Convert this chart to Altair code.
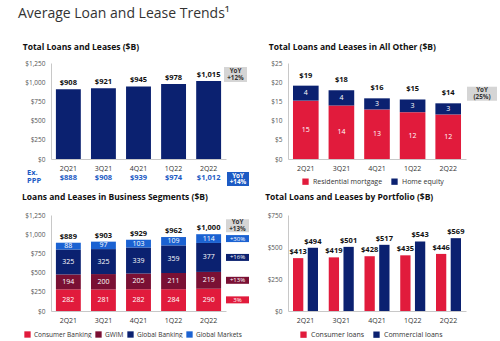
import altair as alt
import pandas as pd

quarters = ["2Q21", "3Q21", "4Q21", "1Q22", "2Q22"]
total_loans = [908, 921, 945, 978, 1015]
ex_ppp = [888, 908, 939, 974, 1012]

resid_mortgage = [15.2, 13.9, 12.9, 12.2, 11.6]
home_equity = [3.9, 4.0, 2.9, 3.3, 2.9]
all_other_totals = [19, 18, 16, 15, 14]

consumer_banking = [282, 281, 282, 284, 290]
gwim = [194, 200, 205, 211, 219]
global_banking = [325, 325, 339, 359, 377]
global_markets = [88, 97, 103, 109, 114]
segment_totals = [889, 903, 929, 962, 1000]
segment_yoy = ["3%", "+13%", "+16%", "+30%"]

consumer_loans = [413, 419, 428, 435, 446]
commercial_loans = [494, 501, 517, 543, 569]

NAVY = "#0B2170"
RED = "#E11B3C"
DARK_RED = "#7A1034"
BLUE = "#1B62D2"
PPP_BLUE = "#1D5BC4"
GRAY_BOX = "#D5D5D5"
FONT = "Open Sans"

W1, W2, H = 175, 178, 96
LH = 6.8
RECT_PATH = "M-1,-{h}L1,-{h}L1,{h}L-1,{h}Z"


def badge_shape(w, h):
    return RECT_PATH.format(h=round(h / w, 3))


def y_axis(vals):
    return alt.Axis(values=vals, format="$,.0f", grid=False, ticks=False,
                    domainColor="#c8c8c8", labelFontSize=6.5, labelColor="#555555",
                    labelPadding=6, labelOverlap=False, title=None)


x_axis = alt.Axis(labelAngle=0, ticks=False, domainColor="#c8c8c8", labelFontSize=7,
                  labelColor="#333333", labelPadding=5, title=None)


def panel_title(t, off):
    return alt.TitleParams(t, anchor="start", fontSize=8.5, fontWeight="bold",
                           color="#111111", offset=off, dx=-2)


def badge(df, w, h, x, y, color, text_color, bold=True, two_lines=True, font=6.3):
    box = alt.Chart(df).mark_point(shape=badge_shape(w, h), filled=True, opacity=1,
                                   size=w * w, strokeWidth=0)
    if color is None:
        box = box.encode(x=x, y=y, color=alt.Color("c:N", scale=None))
    else:
        box = box.encode(x=x, y=y, color=alt.value(color))
    txt = alt.Chart(df).mark_text(fontSize=font, fontWeight="bold" if bold else "normal",
                                  color=text_color, lineBreak="\n", lineHeight=LH,
                                  dy=-LH / 2 if two_lines else 0).encode(
        x=x, y=y, text="t:N")
    return [box, txt]


# ---------------- Panel 1: Total Loans and Leases ----------------
ax1 = y_axis([0, 250, 500, 750, 1000, 1250])
ysc1 = alt.Scale(domain=[0, 1250], nice=False)
df1 = pd.DataFrame({"q": quarters, "v": total_loans, "ppp": ex_ppp})
x1 = alt.X("q:N", sort=quarters, axis=x_axis,
           scale=alt.Scale(paddingInner=0.29, paddingOuter=0.14))
y1 = alt.Y("v:Q", axis=ax1, scale=ysc1)
base1 = alt.Chart(df1)
bars1 = base1.mark_bar(color=NAVY).encode(x=x1, y=y1)
lab1 = base1.mark_text(dy=-6, fontSize=7.5, fontWeight="bold", color="#111111").encode(
    x=x1, y=y1, text=alt.Text("v:Q", format="$,.0f"))
ppp1 = base1.mark_text(fontSize=7.5, fontWeight="bold", color=PPP_BLUE).encode(
    x=x1, y=alt.value(H + 19), text=alt.Text("ppp:Q", format="$,.0f"))
exlab = alt.Chart(pd.DataFrame({"t": ["Ex.\nPPP"]})).mark_text(
    align="left", fontSize=7.5, fontWeight="bold", color=PPP_BLUE, lineBreak="\n",
    lineHeight=7.8, dy=-3.9).encode(x=alt.value(-24), y=alt.value(H + 18), text="t:N")
b1 = pd.DataFrame({"v": [1100], "t": ["YoY\n+12%"]})
b1b = pd.DataFrame({"t": ["YoY\n+14%"]})
layers1 = [bars1, lab1, ppp1, exlab]
layers1 += badge(b1, 23, 15, alt.value(W1 + 9.5), alt.Y("v:Q", axis=ax1, scale=ysc1),
                 GRAY_BOX, "#333333")
layers1 += badge(b1b, 22, 14, alt.value(W1 + 12), alt.value(H + 20), PPP_BLUE, "white")
p1 = alt.layer(*layers1).properties(
    width=W1, height=H, title=panel_title("Total Loans and Leases ($B)", 9))

# ---------------- Panel 2: All Other ----------------
rows2 = []
for i, q in enumerate(quarters):
    rows2.append({"q": q, "s": "Residential mortgage", "v": resid_mortgage[i], "o": 0,
                  "mid": resid_mortgage[i] / 2})
    rows2.append({"q": q, "s": "Home equity", "v": home_equity[i], "o": 1,
                  "mid": resid_mortgage[i] + home_equity[i] / 2})
df2 = pd.DataFrame(rows2)
df2t = pd.DataFrame({"q": quarters,
                     "v": [a + b for a, b in zip(resid_mortgage, home_equity)],
                     "t": ["$" + str(t) for t in all_other_totals]})
x2 = alt.X("q:N", sort=quarters, axis=x_axis,
           scale=alt.Scale(paddingInner=0.28, paddingOuter=0.14))
ax2 = y_axis([0, 5, 10, 15, 20, 25])
ysc2 = alt.Scale(domain=[0, 25], nice=False)
bars2 = alt.Chart(df2).mark_bar().encode(
    x=x2,
    y=alt.Y("v:Q", stack="zero", axis=ax2, scale=ysc2),
    color=alt.Color("s:N", scale=alt.Scale(domain=["Residential mortgage", "Home equity"],
                                           range=[RED, NAVY]),
                    legend=alt.Legend(orient="none", legendX=14, legendY=115,
                                      direction="horizontal", title=None,
                                      symbolType="square", symbolSize=40,
                                      symbolStrokeWidth=0, labelFontSize=7,
                                      labelColor="#333333", columnPadding=8,
                                      labelOffset=4)),
    order=alt.Order("o:Q"))
seg2 = alt.Chart(df2).mark_text(fontSize=7, color="white").encode(
    x=x2, y=alt.Y("mid:Q", axis=ax2, scale=ysc2), text=alt.Text("v:Q", format=".0f"))
tot2 = alt.Chart(df2t).mark_text(dy=-10, fontSize=7.5, fontWeight="bold",
                                 color="#111111").encode(
    x=x2, y=alt.Y("v:Q", axis=ax2, scale=ysc2), text="t:N")
b2 = pd.DataFrame({"v": [17], "t": ["YoY\n(25%)"]})
layers2 = [bars2, seg2, tot2]
layers2 += badge(b2, 30, 14, alt.value(W2 + 16), alt.Y("v:Q", axis=ax2, scale=ysc2),
                 GRAY_BOX, "#333333")
p2 = alt.layer(*layers2).properties(
    width=W2, height=H, title=panel_title("Total Loans and Leases in All Other ($B)", 9))

# ---------------- Panel 3: Business Segments ----------------
seg_names = ["Consumer Banking", "GWIM", "Global Banking", "Global Markets"]
seg_vals = [consumer_banking, gwim, global_banking, global_markets]
seg_cols = [RED, DARK_RED, NAVY, BLUE]
rows3 = []
for i, q in enumerate(quarters):
    cum = 0
    for k, name in enumerate(seg_names):
        v = seg_vals[k][i]
        rows3.append({"q": q, "s": name, "v": v, "o": k, "mid": cum + v / 2})
        cum += v
df3 = pd.DataFrame(rows3)
df3t = pd.DataFrame({"q": quarters,
                     "v": [sum(seg_vals[k][i] for k in range(4)) for i in range(5)],
                     "t": ["$" + format(t, ",") for t in segment_totals]})
x3 = alt.X("q:N", sort=quarters, axis=x_axis,
           scale=alt.Scale(paddingInner=0.29, paddingOuter=0.14))
ax3 = y_axis([0, 250, 500, 750, 1000, 1250])
ysc3 = alt.Scale(domain=[0, 1250], nice=False)
bars3 = alt.Chart(df3).mark_bar().encode(
    x=x3,
    y=alt.Y("v:Q", stack="zero", axis=ax3, scale=ysc3),
    color=alt.Color("s:N", scale=alt.Scale(domain=seg_names, range=seg_cols),
                    legend=alt.Legend(orient="none", legendX=-27, legendY=116,
                                      direction="horizontal", title=None,
                                      symbolType="square", symbolSize=40,
                                      symbolStrokeWidth=0, labelFontSize=6.5,
                                      labelColor="#333333", columnPadding=3,
                                      labelOffset=3)),
    order=alt.Order("o:Q"))
seg3 = alt.Chart(df3).mark_text(fontSize=7, color="white").encode(
    x=x3, y=alt.Y("mid:Q", axis=ax3, scale=ysc3), text=alt.Text("v:Q", format=".0f"))
tot3 = alt.Chart(df3t).mark_text(dy=-6, fontSize=7.5, fontWeight="bold",
                                 color="#111111").encode(
    x=x3, y=alt.Y("v:Q", axis=ax3, scale=ysc3), text="t:N")
last = df3[df3["q"] == quarters[-1]].reset_index(drop=True)
b3 = pd.DataFrame({"v": list(last["mid"]), "t": segment_yoy, "c": seg_cols})
b3g = pd.DataFrame({"v": [1110], "t": ["YoY\n+13%"]})
layers3 = [bars3, seg3, tot3]
layers3 += badge(b3, 23, 7, alt.value(W1 + 11.5), alt.Y("v:Q", axis=ax3, scale=ysc3),
                 None, "white", bold=False, two_lines=False, font=6)
layers3 += badge(b3g, 23, 13, alt.value(W1 + 11.5), alt.Y("v:Q", axis=ax3, scale=ysc3),
                 GRAY_BOX, "#333333")
p3 = alt.layer(*layers3).properties(
    width=W1, height=H,
    title=panel_title("Loans and Leases in Business Segments ($B)", 11))

# ---------------- Panel 4: By Portfolio ----------------
rows4 = []
for i, q in enumerate(quarters):
    rows4.append({"q": q, "s": "Consumer loans", "v": consumer_loans[i]})
    rows4.append({"q": q, "s": "Commercial loans", "v": commercial_loans[i]})
df4 = pd.DataFrame(rows4)
x4 = alt.X("q:N", sort=quarters, axis=x_axis,
           scale=alt.Scale(paddingInner=0.3, paddingOuter=0.14))
xo4 = alt.XOffset("s:N", sort=["Consumer loans", "Commercial loans"],
                  scale=alt.Scale(paddingInner=0.3, paddingOuter=0))
ax4 = y_axis([0, 250, 500, 750])
ysc4 = alt.Scale(domain=[0, 750], nice=False)
bars4 = alt.Chart(df4).mark_bar().encode(
    x=x4, xOffset=xo4,
    y=alt.Y("v:Q", axis=ax4, scale=ysc4),
    color=alt.Color("s:N", scale=alt.Scale(domain=["Consumer loans", "Commercial loans"],
                                           range=[RED, NAVY]),
                    legend=alt.Legend(orient="none", legendX=12, legendY=116,
                                      direction="horizontal", title=None,
                                      symbolType="square", symbolSize=40,
                                      symbolStrokeWidth=0, labelFontSize=7,
                                      labelColor="#333333", columnPadding=8,
                                      labelOffset=4)))
lab4 = alt.Chart(df4).mark_text(dy=-6, fontSize=7.5, fontWeight="bold",
                                color="#111111").encode(
    x=x4, xOffset=xo4, y=alt.Y("v:Q", axis=ax4, scale=ysc4),
    text=alt.Text("v:Q", format="$,.0f"))
p4 = alt.layer(bars4, lab4).properties(
    width=W2, height=H,
    title=panel_title("Total Loans and Leases by Portfolio ($B)", 11))

top = alt.hconcat(p1, p2, spacing=62, bounds="flush").resolve_scale(
    x="independent", y="independent", color="independent")
bottom = alt.hconcat(p3, p4, spacing=62, bounds="flush").resolve_scale(
    x="independent", y="independent", color="independent")
chart = alt.vconcat(top, bottom, spacing=6).resolve_scale(
    x="independent", y="independent", color="independent").properties(
    title=alt.TitleParams("Average Loan and Lease Trends¹", anchor="start", fontSize=14,
                          fontWeight="normal", color="#333333", offset=22, dx=-4),
    padding={"left": 18, "top": 6, "right": 0, "bottom": 0},
    background="white",
).configure(font=FONT).configure_view(stroke=None)

chart.save("out.html", embed_options={"renderer": "svg", "actions": False})
